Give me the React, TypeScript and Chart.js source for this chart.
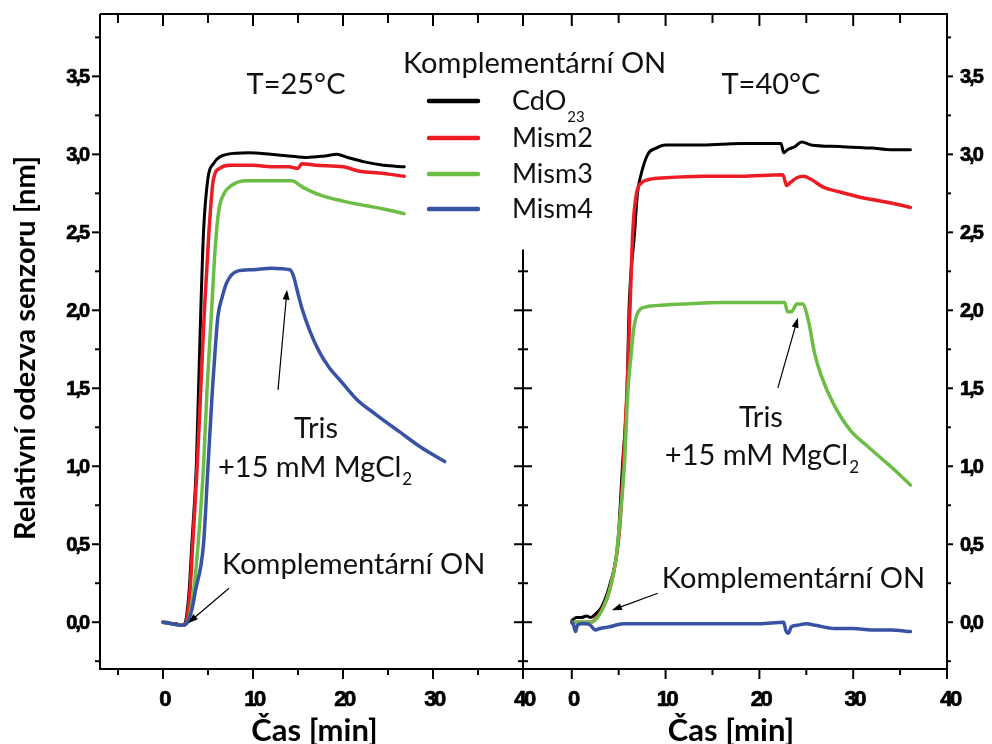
import React, { useEffect, useRef } from 'react';
import { Chart, registerables } from 'chart.js';

Chart.register(...registerables);

type Pt = [number, number];

// Sensor response [nm] vs. time [min], T = 25 °C
const cdo23At25: Pt[] = [
  [0, 0], [0.5, 0], [1, -0.01], [1.5, -0.01], [2, -0.02], [2.4, -0.01], [2.9, 0.2], [3.2, 0.5],
  [3.7, 1.0], [3.95, 1.5], [4.2, 2.0], [4.5, 2.5], [5.0, 2.85], [5.6, 2.94], [7.1, 3.0], [9.5, 3.01],
  [12, 3.0], [14, 2.99], [16, 2.98], [18, 2.99], [19.3, 3.0], [20.5, 2.98], [22.5, 2.95],
  [24.5, 2.93], [26.8, 2.92],
];
const mism2At25: Pt[] = [
  [0, 0], [1, -0.01], [2, -0.02], [2.4, -0.02], [3.0, 0.2], [3.3, 0.5], [3.8, 1.0], [4.2, 1.5],
  [4.6, 2.0], [5.1, 2.5], [5.6, 2.84], [6.3, 2.91], [7.4, 2.93], [10, 2.93], [12, 2.92], [14, 2.92],
  [15, 2.91], [15.4, 2.94], [17, 2.93], [20, 2.92], [22, 2.89], [24, 2.88], [26.8, 2.86],
];
const mism3At25: Pt[] = [
  [0, 0], [1, -0.01], [2, -0.02], [2.6, -0.01], [3.4, 0.2], [3.9, 0.5], [4.5, 1.0], [4.9, 1.5],
  [5.4, 2.0], [5.8, 2.4], [6.2, 2.64], [6.8, 2.75], [7.6, 2.8], [9.3, 2.83], [12, 2.83], [14.3, 2.83],
  [15.5, 2.79], [17.4, 2.74], [20, 2.7], [22.6, 2.67], [24.5, 2.65], [26.8, 2.62],
];
const mism4At25: Pt[] = [
  [0, 0], [1, -0.01], [2, -0.02], [2.6, -0.01], [3.2, 0.08], [3.6, 0.2], [4.5, 0.5], [5.0, 1.0],
  [5.5, 1.5], [5.8, 1.75], [6.1, 1.96], [6.6, 2.09], [7.1, 2.18], [8.2, 2.25], [10, 2.26], [12, 2.27],
  [14.1, 2.26], [14.5, 2.22], [14.9, 2.13], [15.4, 2.02], [16.3, 1.87], [17.4, 1.73], [18.5, 1.63],
  [19.7, 1.55], [21.5, 1.43], [23.7, 1.33], [26.3, 1.22], [28.7, 1.12], [31.3, 1.03],
];

// Sensor response [nm] vs. time [min], T = 40 °C
const cdo23At40: Pt[] = [
  [0, 0.01], [0.5, 0.03], [1, 0.03], [1.6, 0.04], [2, 0.03], [2.5, 0.05], [3.2, 0.1], [4.1, 0.25],
  [4.9, 0.5], [5.4, 1.0], [5.9, 1.5], [6.1, 2.0], [6.7, 2.5], [7.0, 2.75], [7.3, 2.85], [8.1, 3.0],
  [9, 3.04], [10, 3.06], [14, 3.06], [18, 3.07], [22.3, 3.07], [22.6, 3.01], [23.0, 3.03],
  [23.8, 3.05], [24.5, 3.08], [25.5, 3.06], [28.6, 3.05], [32, 3.04], [34, 3.03], [36.1, 3.03],
];
const mism2At40: Pt[] = [
  [0, 0], [1, 0], [2, 0], [2.5, 0.02], [3.2, 0.08], [4.0, 0.2], [4.7, 0.4], [5.1, 0.6], [5.5, 1.0],
  [5.9, 1.5], [6.2, 2.0], [6.5, 2.5], [6.9, 2.75], [7.5, 2.82], [8.3, 2.84], [10, 2.85], [14, 2.86],
  [18, 2.86], [22.5, 2.87], [22.9, 2.8], [23.3, 2.82], [24, 2.85], [24.7, 2.86], [25.5, 2.84],
  [26.8, 2.79], [28.5, 2.76], [30.4, 2.73], [32, 2.71], [33.9, 2.69], [36.1, 2.66],
];
const mism3At40: Pt[] = [
  [0, 0], [1, 0], [2, 0], [2.6, 0.02], [3.4, 0.1], [4.0, 0.2], [4.7, 0.4], [5.2, 0.7], [5.6, 1.0],
  [6.0, 1.5], [6.3, 1.7], [6.6, 1.88], [7.0, 1.98], [7.8, 2.02], [9, 2.03], [12, 2.04], [16, 2.05],
  [20, 2.05], [22.7, 2.05], [23.0, 1.99], [23.4, 1.99], [24.0, 2.04], [24.6, 2.04], [25.2, 1.94],
  [25.9, 1.72], [26.6, 1.58], [27.9, 1.4], [29.7, 1.23], [31.5, 1.13], [33.2, 1.04], [34.7, 0.96],
  [36.1, 0.88],
];
const mism4At40: Pt[] = [
  [0, 0], [0.2, -0.02], [0.4, -0.06], [0.6, -0.02], [1, -0.01], [1.6, -0.01], [2.0, -0.02],
  [2.5, -0.05], [3.0, -0.04], [4, -0.03], [5.5, -0.01], [8, -0.01], [12, -0.01], [16, -0.01],
  [20, -0.01], [22.6, 0], [22.8, -0.05], [23.1, -0.07], [23.4, -0.03], [24, -0.02], [25, -0.01],
  [26, -0.02], [28, -0.04], [30, -0.04], [32, -0.05], [34, -0.05], [36.1, -0.06],
];

const seriesNames = ['CdO', 'Mism2', 'Mism3', 'Mism4'];
const seriesSubscripts = ['23', '', '', ''];
const seriesColors = ['#000000', '#ed1c24', '#6cbd45', '#3953a4'];

const yMajorTicks = [0, 0.5, 1, 1.5, 2, 2.5, 3, 3.5];
const yTickLabels = ['0,0', '0,5', '1,0', '1,5', '2,0', '2,5', '3,0', '3,5'];
const yMinorTicks = [-0.25, 0.25, 0.75, 1.25, 1.75, 2.25, 2.75, 3.25, 3.75];
const xMajorTicks = [0, 10, 20, 30, 40];
const xTickLabels = ['0', '10', '20', '30', '40'];
const xMinorTicks = [-5, 5, 15, 25, 35];

const yMin = -0.3;
const yMax = 3.9;
const xMin25 = -7;
const xMin40 = -5.2;
const xMax = 40;

const W = 992;
const H = 744;

const TEXT_FONT = '29px Lato';
const SUB_FONT = '17px Lato';
const X_TITLE_FONT = 'bold 31px Lato';
const Y_TITLE_FONT = 'bold 29px Lato';
const TICK_FONT_X = 'bold 22px "Liberation Sans", Arial, sans-serif';
const TICK_FONT_Y = 'bold 20px "Liberation Sans", Arial, sans-serif';

type Notes = {
  temp: string;
  tempAt: Pt;
  trisAt: Pt;
  saltAt: Pt;
  saltArrow: [Pt, Pt];
  complAt: Pt;
  complArrow: [Pt, Pt];
};

const notes25: Notes = {
  temp: 'T=25°C',
  tempAt: [14.78, 3.385],
  trisAt: [17.0, 1.182],
  saltAt: [6.11, 0.931],
  saltArrow: [[12.78, 1.49], [13.78, 2.132]],
  complAt: [6.56, 0.308],
  complArrow: [[7.33, 0.218], [2.78, -0.006]],
};

const notes40: Notes = {
  temp: 'T=40°C',
  tempAt: [21.23, 3.385],
  trisAt: [20.16, 1.252],
  saltAt: [9.92, 1.008],
  saltArrow: [[21.97, 1.503], [24.1, 1.952]],
  complAt: [9.6, 0.218],
  complArrow: [[9.17, 0.186], [4.27, 0.077]],
};

function seg(ctx: CanvasRenderingContext2D, x1: number, y1: number, x2: number, y2: number) {
  ctx.beginPath();
  ctx.moveTo(x1, y1);
  ctx.lineTo(x2, y2);
  ctx.stroke();
}

function arrow(ctx: CanvasRenderingContext2D, x1: number, y1: number, x2: number, y2: number) {
  const a = Math.atan2(y2 - y1, x2 - x1);
  const len = 10;
  const half = 3.5;
  ctx.save();
  ctx.strokeStyle = '#000';
  ctx.fillStyle = '#000';
  ctx.lineWidth = 1.2;
  seg(ctx, x1, y1, x2 - Math.cos(a) * len * 0.6, y2 - Math.sin(a) * len * 0.6);
  ctx.beginPath();
  ctx.moveTo(x2, y2);
  ctx.lineTo(x2 - Math.cos(a) * len - Math.sin(a) * half, y2 - Math.sin(a) * len + Math.cos(a) * half);
  ctx.lineTo(x2 - Math.cos(a) * len + Math.sin(a) * half, y2 - Math.sin(a) * len - Math.cos(a) * half);
  ctx.closePath();
  ctx.fill();
  ctx.restore();
}

// Heavy, tightly spaced tick numbers
function tickText(ctx: CanvasRenderingContext2D, text: string, x: number, y: number, align: CanvasTextAlign) {
  ctx.textAlign = align;
  ctx.lineWidth = 0.7;
  ctx.lineJoin = 'round';
  ctx.strokeText(text, x, y);
  ctx.fillText(text, x, y);
}

function withSub(ctx: CanvasRenderingContext2D, main: string, sub: string, x: number, y: number, subFont: string, drop: number) {
  ctx.textAlign = 'left';
  ctx.fillText(main, x, y);
  if (sub) {
    const w = ctx.measureText(main).width;
    const f = ctx.font;
    ctx.font = subFont;
    ctx.fillText(sub, x + w + 1, y + drop);
    ctx.font = f;
  }
}

function drawNotes(chart: Chart, n: Notes) {
  const { ctx } = chart;
  const xs = chart.scales.x;
  const ys = chart.scales.y;
  const px = (p: Pt) => [xs.getPixelForValue(p[0]), ys.getPixelForValue(p[1])];
  ctx.save();
  ctx.fillStyle = '#111';
  ctx.textBaseline = 'alphabetic';
  ctx.font = TEXT_FONT;
  let [x, y] = px(n.tempAt);
  ctx.textAlign = 'center';
  ctx.fillText(n.temp, x, y);
  [x, y] = px(n.trisAt);
  ctx.fillText('Tris', x, y);
  [x, y] = px(n.saltAt);
  withSub(ctx, '+15 mM MgCl', '2', x, y, SUB_FONT, 8);
  [x, y] = px(n.complAt);
  ctx.textAlign = 'left';
  ctx.fillText('Komplementární ON', x, y);
  const [a1, b1] = px(n.saltArrow[0]);
  const [a2, b2] = px(n.saltArrow[1]);
  arrow(ctx, a1, b1, a2, b2);
  const [c1, d1] = px(n.complArrow[0]);
  const [c2, d2] = px(n.complArrow[1]);
  arrow(ctx, c1, d1, c2, d2);
  ctx.restore();
}

function drawLegend(ctx: CanvasRenderingContext2D) {
  ctx.save();
  ctx.fillStyle = '#111';
  ctx.textBaseline = 'alphabetic';
  ctx.font = TEXT_FONT;
  ctx.textAlign = 'left';
  ctx.fillText('Komplementární ON', 403, 73);
  const rowY = [101, 138, 174, 209];
  seriesNames.forEach((name, i) => {
    ctx.strokeStyle = seriesColors[i];
    ctx.lineWidth = 4.5;
    ctx.lineCap = 'round';
    seg(ctx, 429, rowY[i], 478, rowY[i]);
    ctx.font = '27px Lato';
    withSub(ctx, name, seriesSubscripts[i], 512, rowY[i] + 9, '15px Lato', 12);
  });
  ctx.restore();
}

// Frame, ticks and labels for the 25 °C panel (left y axis, shared middle axis)
const frame25 = {
  id: 'frame25',
  afterDraw(chart: Chart) {
    const { ctx, chartArea: a } = chart;
    const xs = chart.scales.x;
    const ys = chart.scales.y;
    ctx.save();
    ctx.strokeStyle = '#000';
    ctx.fillStyle = '#000';
    ctx.lineWidth = 2;
    ctx.lineCap = 'butt';
    // outer frame
    seg(ctx, a.left, a.top, a.right, a.top);
    seg(ctx, a.left - 1, a.bottom, a.right, a.bottom);
    seg(ctx, a.left, a.top, a.left, a.bottom);
    // middle axis, below the legend
    const midTop = ys.getPixelForValue(2.39);
    seg(ctx, a.right, midTop, a.right, a.bottom + 9);
    yMajorTicks.forEach((v) => {
      const y = ys.getPixelForValue(v);
      seg(ctx, a.left - 8, y, a.left, y);
      if (y > midTop) seg(ctx, a.right - 9, y, a.right + 9, y);
    });
    yMinorTicks.forEach((v) => {
      const y = ys.getPixelForValue(v);
      seg(ctx, a.left - 5, y, a.left, y);
      if (y > midTop) seg(ctx, a.right - 5, y, a.right + 5, y);
    });
    xMajorTicks.forEach((t) => {
      const x = xs.getPixelForValue(t);
      seg(ctx, x, a.bottom, x, a.bottom + 10);
      seg(ctx, x, a.top, x, a.top + 12);
    });
    xMinorTicks.forEach((t) => {
      const x = xs.getPixelForValue(t);
      seg(ctx, x, a.bottom, x, a.bottom + 6);
      seg(ctx, x, a.top, x, a.top + 9);
    });
    ctx.fillStyle = '#000';
    ctx.textBaseline = 'middle';
    ctx.font = TICK_FONT_Y;
    (ctx as any).letterSpacing = '-2px';
    yMajorTicks.forEach((v, i) => tickText(ctx, yTickLabels[i], a.left - 12, ys.getPixelForValue(v) + 1, 'right'));
    ctx.font = TICK_FONT_X;
    (ctx as any).letterSpacing = '-2.5px';
    xMajorTicks.forEach((t, i) => tickText(ctx, xTickLabels[i], xs.getPixelForValue(t) + 1, a.bottom + 31, 'center'));
    (ctx as any).letterSpacing = '0px';
    // axis titles
    ctx.textBaseline = 'alphabetic';
    ctx.textAlign = 'center';
    ctx.font = X_TITLE_FONT;
    ctx.fillText('Čas [min]', (a.left + a.right) / 2 + 3, 741);
    ctx.font = Y_TITLE_FONT;
    ctx.save();
    ctx.translate(35, 348);
    ctx.rotate(-Math.PI / 2);
    ctx.fillText('Relativní odezva senzoru [nm]', 0, 0);
    ctx.restore();
    ctx.restore();
    drawNotes(chart, notes25);
    drawLegend(ctx);
  },
};

// Frame, ticks and labels for the 40 °C panel (right y axis)
const frame40 = {
  id: 'frame40',
  afterDraw(chart: Chart) {
    const { ctx, chartArea: a } = chart;
    const xs = chart.scales.x;
    const ys = chart.scales.y;
    ctx.save();
    ctx.strokeStyle = '#000';
    ctx.fillStyle = '#000';
    ctx.lineWidth = 2;
    seg(ctx, a.left, a.top, a.right + 1, a.top);
    seg(ctx, a.left, a.bottom, a.right + 1, a.bottom);
    seg(ctx, a.right, a.top, a.right, a.bottom);
    yMajorTicks.forEach((v) => {
      const y = ys.getPixelForValue(v);
      seg(ctx, a.right, y, a.right + 6, y);
    });
    yMinorTicks.forEach((v) => {
      const y = ys.getPixelForValue(v);
      seg(ctx, a.right, y, a.right + 4, y);
    });
    xMajorTicks.forEach((t) => {
      const x = xs.getPixelForValue(t);
      seg(ctx, x, a.bottom, x, a.bottom + 10);
      if (t < xMax) seg(ctx, x, a.top, x, a.top + 12);
    });
    xMinorTicks.forEach((t) => {
      if (t < 0) return;
      const x = xs.getPixelForValue(t);
      seg(ctx, x, a.bottom, x, a.bottom + 6);
      seg(ctx, x, a.top, x, a.top + 9);
    });
    ctx.textBaseline = 'middle';
    ctx.font = TICK_FONT_Y;
    (ctx as any).letterSpacing = '-2px';
    yMajorTicks.forEach((v, i) => tickText(ctx, yTickLabels[i], a.right + 13, ys.getPixelForValue(v) + 1, 'left'));
    ctx.font = TICK_FONT_X;
    (ctx as any).letterSpacing = '-2.5px';
    xMajorTicks.forEach((t, i) => {
      if (t === 40) return;
      tickText(ctx, xTickLabels[i], xs.getPixelForValue(t) + 1, a.bottom + 31, 'center');
    });
    tickText(ctx, '40', xs.getPixelForValue(40) + 3, a.bottom + 31, 'center');
    (ctx as any).letterSpacing = '0px';
    ctx.font = X_TITLE_FONT;
    ctx.textBaseline = 'alphabetic';
    ctx.textAlign = 'center';
    ctx.fillText('Čas [min]', (a.left + a.right) / 2 - 4, 741);
    ctx.restore();
    drawNotes(chart, notes40);
  },
};

function panelConfig(series: Pt[][], xMin: number, padding: any, plugin: any): any {
  return {
    type: 'scatter',
    data: {
      datasets: series.map((pts, i) => ({
        label: seriesNames[i] + seriesSubscripts[i],
        data: pts.map(([x, y]) => ({ x, y })),
        showLine: true,
        borderColor: seriesColors[i],
        backgroundColor: seriesColors[i],
        borderWidth: i === 0 ? 3 : 3.5,
        pointRadius: 0,
        cubicInterpolationMode: 'monotone',
        borderCapStyle: 'round',
        borderJoinStyle: 'round',
        order: series.length - 1 - i,
      })),
    },
    options: {
      responsive: false,
      animation: false,
      devicePixelRatio: 1,
      events: [],
      layout: { padding },
      scales: {
        x: { type: 'linear', min: xMin, max: xMax, display: false },
        y: { type: 'linear', min: yMin, max: yMax, display: false },
      },
      plugins: { legend: { display: false }, tooltip: { enabled: false } },
    },
    plugins: [plugin],
  };
}

export default function App() {
  const leftRef = useRef<HTMLCanvasElement>(null);
  const rightRef = useRef<HTMLCanvasElement>(null);

  useEffect(() => {
    const left = new Chart(
      leftRef.current!,
      panelConfig([cdo23At25, mism2At25, mism3At25, mism4At25], xMin25, { left: 100, right: W - 523, top: 14, bottom: H - 669 }, frame25),
    );
    const right = new Chart(
      rightRef.current!,
      panelConfig([cdo23At40, mism2At40, mism3At40, mism4At40], xMin40, { left: 523, right: W - 947, top: 14, bottom: H - 669 }, frame40),
    );
    return () => {
      left.destroy();
      right.destroy();
    };
  }, []);

  const canvasStyle: React.CSSProperties = { position: 'absolute', left: 0, top: 0, width: W, height: H };
  return (
    <div style={{ position: 'absolute', left: 0, top: 0, width: W, height: H, background: '#fff', overflow: 'hidden' }}>
      <canvas ref={leftRef} width={W} height={H} style={canvasStyle} />
      <canvas ref={rightRef} width={W} height={H} style={canvasStyle} />
    </div>
  );
}
